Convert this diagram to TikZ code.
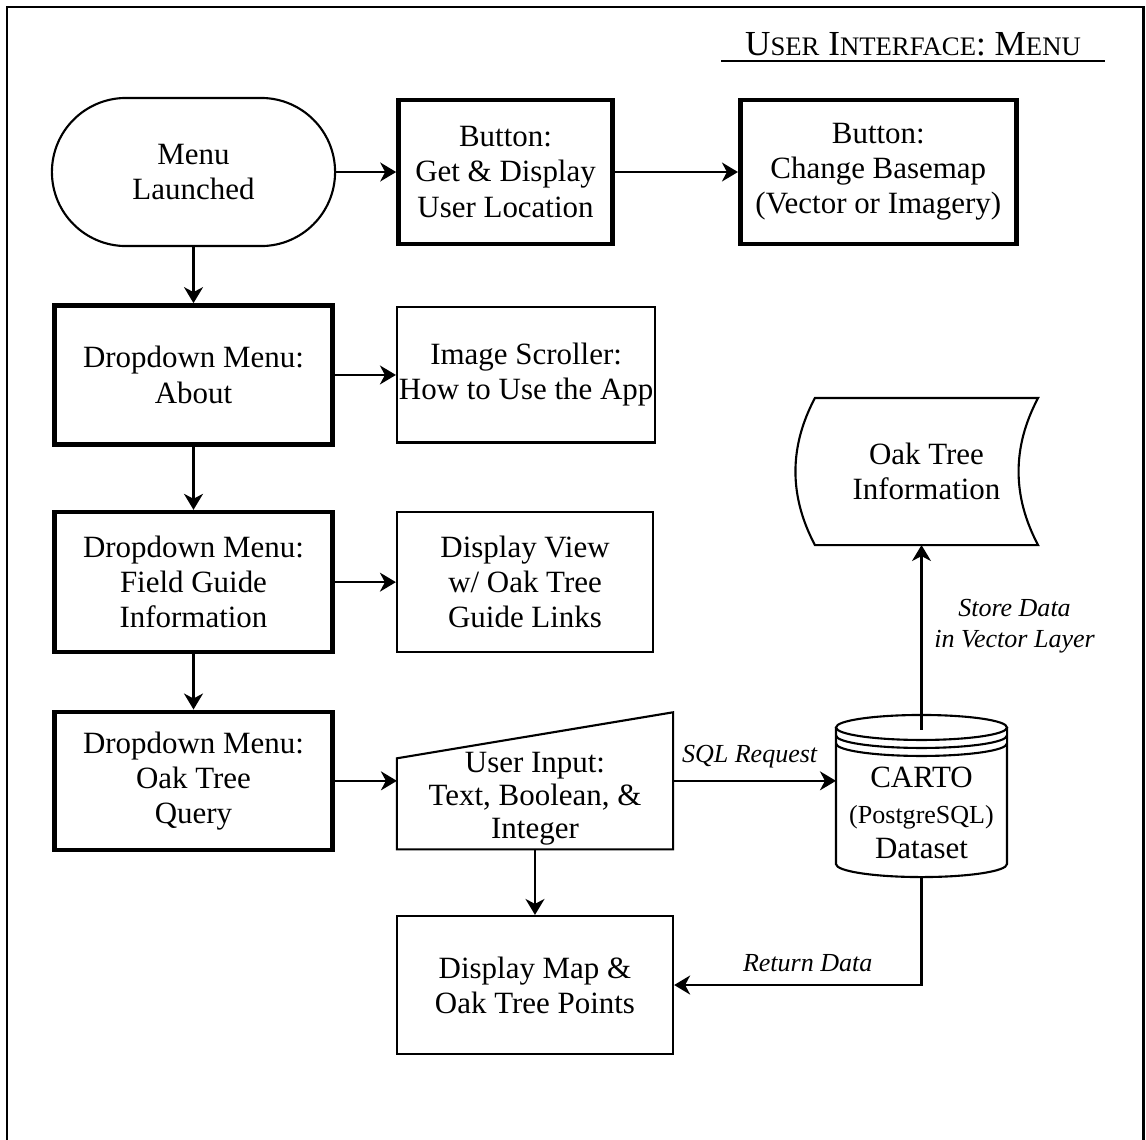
\documentclass[tikz,border=0pt]{standalone}
\usepackage{fontspec}
\setmainfont{Liberation Serif}
\usepackage{tikz}
\usetikzlibrary{arrows.meta, positioning, calc}

\newcommand{\smcap}[1]{{\fontsize{7.6}{8}\selectfont #1}}

\begin{document}
\begin{tikzpicture}[
    x=0.01cm, y=-0.01cm,
    font=\fontsize{8.8}{10}\selectfont,
    node distance=0.6cm and 0.62cm,
    term/.style={draw, line width=0.6pt, rounded corners=0.74cm, align=center, minimum width=2.83cm, minimum height=1.48cm},
    btn/.style={draw, line width=1.3pt, align=center, inner xsep=0.02cm, minimum width=2.78cm, minimum height=1.39cm},
    box/.style={draw, line width=0.6pt, align=center, inner xsep=0.02cm, minimum width=2.56cm, minimum height=1.35cm},
    shp/.style={inner sep=0pt, outer sep=0pt},
    lbl/.style={font=\fontsize{7.4}{8.8}\selectfont\itshape, align=center},
    line/.style={-{Stealth[length=0.16cm, width=0.19cm, inset=0.05cm]}, line width=0.6pt}
]
\useasboundingbox (0,0) rectangle (1146,1139);
\draw[line width=0.85pt] (7,1160) -- (7,7) -- (1143,7) -- (1143,1160);

% title
\node[inner xsep=0pt, inner ysep=0.05cm, minimum width=3.82cm, anchor=base, font=\fontsize{10}{11}\selectfont] (title) at (913,55)
  {U\smcap{SER} I\smcap{NTERFACE}: M\smcap{ENU}};
\draw[line width=0.5pt] (title.south west) -- (title.south east);

% top row
\node[term] (menu) at (193.5,172) {Menu\\Launched};
\node[btn, minimum width=2.14cm, minimum height=1.44cm, right=0.6cm of menu] (getloc) {Button:\\Get \& Display\\User Location};
\node[btn, minimum width=2.76cm, minimum height=1.44cm, right=1.23cm of getloc] (basemap) {Button:\\Change Basemap\\(Vector or Imagery)};

% dropdown menus
\node[btn, below=0.56cm of menu] (about) {Dropdown Menu:\\About};
\node[box, right=0.61cm of about] (scroller) {Image Scroller:\\How to Use the App};
\node[btn, minimum height=1.4cm, below=0.63cm of about] (guide) {Dropdown Menu:\\Field Guide\\Information};
\node[box, minimum height=1.4cm, right=0.61cm of guide] (view) {Display View\\w/ Oak Tree\\Guide Links};
\node[btn, minimum height=1.38cm, below=0.55cm of guide] (query) {Dropdown Menu:\\Oak Tree\\Query};

% query flow
\node[shp, minimum width=2.76cm, minimum height=1.37cm, right=0.62cm of query] (input) {};
\draw[line width=0.6pt] (input.north east) -- (input.south east) -- (input.south west) -- ($(input.north west)+(0,46)$) -- cycle;
\node[align=center, font=\fontsize{8.8}{9.4}\selectfont] (inputtxt) at ([yshift=-0.18cm]input.center) {User Input:\\Text, Boolean, \&\\Integer};
\node[box, minimum width=2.76cm, minimum height=1.38cm, below=0.655cm of input] (map) {Display Map \&\\Oak Tree Points};

% database
\node[shp, minimum width=1.71cm, minimum height=1.62cm] (carto) at (921.5,796) {};
\draw[line width=0.6pt] ($(carto.north west)+(0,12.5)$) -- ($(carto.south west)+(0,-13)$)
  arc[start angle=180, end angle=0, x radius=85.5, y radius=13] -- ($(carto.north east)+(0,12.5)$);
\draw[line width=0.6pt] ($(carto.north)+(0,12.5)$) ellipse[x radius=85.5, y radius=12.5];
\foreach \dy in {20.5,28.5}
  \draw[line width=0.6pt] ($(carto.north west)+(0,\dy)$) arc[start angle=180, end angle=0, x radius=85.5, y radius=12.5];
\node[align=center] (cartotxt) at ([yshift=-0.17cm]carto.center) {CARTO\\{\fontsize{7.4}{9}\selectfont (PostgreSQL)}\\Dataset};

% stored data
\node[shp, align=center, minimum width=2.23cm, minimum height=1.47cm] (oakinfo) at (926.5,471.5) {Oak Tree\\Information};
\draw[line width=0.6pt] (oakinfo.north east) .. controls +(-26,49) and +(-26,-49) .. (oakinfo.south east)
  -- (oakinfo.south west) .. controls +(-26,-49) and +(-26,49) .. (oakinfo.north west) -- cycle;

% connectors
\draw[line] (menu) -- (getloc);
\draw[line] (getloc) -- (basemap);
\draw[line] (menu) -- (about);
\draw[line] (about) -- (scroller);
\draw[line] (about) -- (guide);
\draw[line] (guide) -- (view);
\draw[line] (guide) -- (query);
\draw[line] (query) -- (input);
\draw[line] (input.east) -- (input.east -| carto.west) node[lbl, pos=0.47, above] (sqllbl) {SQL Request};
\draw[line] (input.south) -- (map);
\draw[line] (carto.south) |- (map) node[lbl, pos=0.73, above] (retlbl) {Return Data};
\coordinate (cartotop) at ([yshift=-0.15cm]carto.north);
\draw[line] (cartotop) -- (cartotop |- oakinfo.south) node[lbl, pos=0.56, right] (storelbl) {Store Data\\in Vector Layer};
\end{tikzpicture}
\end{document}
